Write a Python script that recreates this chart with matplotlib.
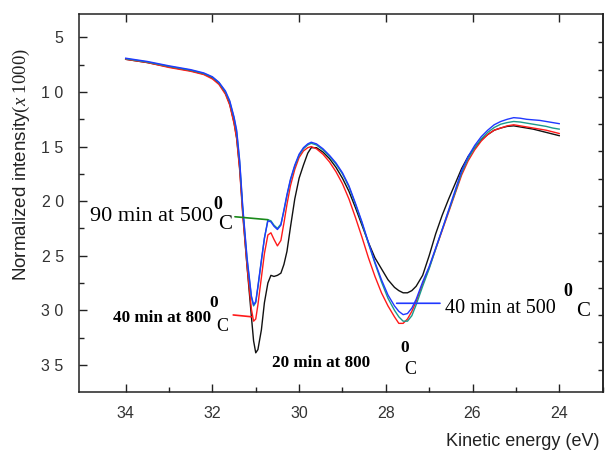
import numpy as np
import matplotlib
matplotlib.use("Agg")
import matplotlib.pyplot as plt

plt.rcParams['font.family'] = ['Liberation Sans', 'DejaVu Sans']
plt.rcParams['mathtext.fontset'] = 'custom'
plt.rcParams['mathtext.rm'] = 'Liberation Serif'
plt.rcParams['mathtext.it'] = 'Liberation Serif:italic'

# kinetic energy grid (eV)
energy = [34.0, 33.5, 33.0, 32.5, 32.2, 32.0, 31.85, 31.7, 31.6, 31.5, 31.44, 31.37,
          31.3, 31.2, 31.1, 31.05, 31.0, 30.95, 30.87, 30.8, 30.72, 30.65, 30.58, 30.5,
          30.42, 30.35, 30.28, 30.2, 30.1, 30.0, 29.9, 29.8, 29.72, 29.6, 29.45, 29.3,
          29.15, 29.0, 28.85, 28.7, 28.55, 28.4, 28.25, 28.1, 27.95, 27.8, 27.7, 27.6,
          27.5, 27.4, 27.3, 27.15, 27.0, 26.85, 26.7, 26.55, 26.4, 26.25, 26.1, 25.95,
          25.8, 25.65, 25.5, 25.35, 25.2, 25.05, 24.9, 24.75, 24.6, 24.45, 24.3, 24.15, 24.0]

# 20 min at 800 C
black_int = [7.0, 7.3, 7.7, 8.05, 8.35, 8.7, 9.2, 10.1, 11.1, 12.8, 14.2, 17.0,
             21.0, 26.0, 30.6, 32.8, 33.9, 33.6, 31.8, 29.3, 27.5, 26.8, 26.9, 26.8,
             26.6, 25.8, 24.6, 22.4, 19.8, 17.9, 16.7, 15.6, 15.1, 15.1, 15.5, 16.1,
             16.9, 17.9, 19.1, 20.6, 22.2, 23.8, 25.2, 26.2, 27.2, 27.9, 28.2, 28.4,
             28.4, 28.2, 27.8, 26.8, 25.0, 23.0, 21.3, 19.8, 18.4, 17.0, 15.9, 15.1,
             14.4, 13.9, 13.5, 13.3, 13.15, 13.1, 13.2, 13.3, 13.4, 13.55, 13.7, 13.85, 14.0]

# 40 min at 800 C
red_int = [7.0, 7.3, 7.75, 8.1, 8.4, 8.8, 9.3, 10.2, 11.2, 12.9, 14.3, 17.2,
           21.3, 26.0, 29.9, 31.0, 30.8, 29.5, 27.0, 24.8, 23.1, 22.9, 23.5, 24.1,
           23.6, 22.0, 20.3, 18.6, 17.1, 16.0, 15.4, 15.1, 15.0, 15.2, 15.7, 16.4,
           17.3, 18.4, 19.8, 21.5, 23.3, 25.2, 26.9, 28.4, 29.6, 30.6, 31.2, 31.2,
           30.8, 30.1, 29.2, 27.6, 26.1, 24.4, 22.7, 21.0, 19.3, 17.6, 16.3, 15.3,
           14.5, 13.9, 13.5, 13.3, 13.1, 13.0, 13.1, 13.2, 13.3, 13.4, 13.5, 13.65, 13.8]

# 90 min at 500 C
teal_int = [6.95, 7.25, 7.65, 8.0, 8.3, 8.65, 9.15, 10.0, 10.9, 12.4, 13.7, 16.5,
            20.7, 25.4, 28.8, 29.6, 29.3, 27.9, 25.5, 23.4, 21.7, 21.8, 22.2, 22.5,
            22.1, 20.9, 19.5, 18.1, 16.8, 15.8, 15.2, 14.85, 14.7, 14.85, 15.3, 15.9,
            16.6, 17.5, 18.7, 20.3, 22.0, 23.9, 25.7, 27.4, 28.9, 30.0, 30.6, 31.0,
            31.0, 30.5, 29.5, 27.8, 26.2, 24.4, 22.6, 20.9, 19.2, 17.4, 16.1, 15.1,
            14.3, 13.7, 13.25, 12.95, 12.8, 12.7, 12.75, 12.85, 12.95, 13.05, 13.15, 13.3, 13.4]

# 40 min at 500 C
blue_int = [6.9, 7.2, 7.6, 7.95, 8.25, 8.6, 9.1, 9.9, 10.8, 12.3, 13.5, 16.3,
            20.5, 25.2, 28.7, 29.5, 29.2, 27.8, 25.4, 23.4, 21.8, 21.9, 22.3, 22.6,
            22.2, 20.8, 19.4, 18.0, 16.7, 15.7, 15.1, 14.75, 14.6, 14.75, 15.2, 15.8,
            16.5, 17.4, 18.6, 20.2, 21.9, 23.8, 25.6, 27.2, 28.6, 29.6, 30.1, 30.4,
            30.3, 29.8, 29.0, 27.4, 26.0, 24.3, 22.6, 20.8, 19.0, 17.2, 15.9, 14.9,
            14.1, 13.5, 13.0, 12.7, 12.5, 12.35, 12.4, 12.5, 12.55, 12.6, 12.7, 12.8, 12.9]

ytick_vals = [5, 10, 15, 20, 25, 30, 35]
ytick_labels = ['5', '1 0', '1 5', '2 0', '2 5', '3 0', '3 5']
xtick_vals = [34, 32, 30, 28, 26, 24]

fig = plt.figure(figsize=(6.05, 4.5), dpi=100)
ax = fig.add_axes([79/605, 58/450, 524/605, 378/450])

ax.plot(energy, black_int, color='#111111', lw=1.0)
ax.plot(energy, red_int, color='#ff1a1a', lw=1.0)
ax.plot(energy, teal_int, color='#1a9a8c', lw=1.0)
ax.plot(energy, blue_int, color='#2038ff', lw=1.0)

ax.set_xlim(35.077, 22.99)
ax.set_ylim(37.49, 2.85)

ax.set_xticks(xtick_vals)
ax.set_xticklabels([str(v) for v in xtick_vals])
ax.set_xticks([33, 31, 29, 27, 25, 23], minor=True)
ax.set_yticks(ytick_vals)
ax.set_yticklabels(ytick_labels)
ax.set_yticks([7.5, 12.5, 17.5, 22.5, 27.5, 32.5], minor=True)

for s in ax.spines.values():
    s.set_color('#222222')
    s.set_linewidth(1.1)

ax.tick_params(which='major', direction='in', length=6, width=1.0, color='#222222',
               labelsize=11.5, labelcolor='#333333', top=True, right=False)
ax.tick_params(which='minor', direction='in', length=3.5, width=1.0, color='#222222',
               top=False, right=False)
ax.tick_params(axis='y', which='major', pad=11)
ax.tick_params(axis='x', which='major', pad=10)

sec = ax.secondary_yaxis('right')
sec.set_yticks(np.arange(5.45, 36, 2.5))
sec.set_yticklabels([])
sec.tick_params(direction='in', length=3.5, width=1.0, color='#222222')
sec.spines['right'].set_color('#222222')
sec.spines['right'].set_linewidth(1.1)

serif = 'Liberation Serif'

# 90 min at 500 C
ax.text(34.82, 21.43, '90 min at 500', family=serif, fontsize=16, ha='left', va='center')
ax.text(31.87, 20.35, '0', family=serif, fontsize=13, fontweight='bold', ha='center', va='center')
ax.text(31.71, 22.1, 'C', family=serif, fontsize=15, ha='center', va='center')
ax.annotate('', xy=(30.72, 21.7), xytext=(31.48, 21.43),
            arrowprops=dict(arrowstyle='-', color='#1a8a1a', lw=1.2, shrinkA=0, shrinkB=0))

# 40 min at 800 C
ax.text(34.29, 30.71, '40 min at 800', family=serif, fontsize=12.3, fontweight='bold',
        ha='left', va='center')
ax.text(31.96, 29.33, '0', family=serif, fontsize=12.5, fontweight='bold', ha='center', va='center')
ax.text(31.78, 31.53, 'C', family=serif, fontsize=13, ha='center', va='center')
ax.annotate('', xy=(31.09, 30.6), xytext=(31.52, 30.43),
            arrowprops=dict(arrowstyle='-', color='#ff1a1a', lw=1.2, shrinkA=0, shrinkB=0))

# 20 min at 800 C
ax.text(30.63, 34.86, '20 min at 800', family=serif, fontsize=12.3, fontweight='bold',
        ha='left', va='center')
ax.text(27.56, 33.46, '0', family=serif, fontsize=12.5, fontweight='bold', ha='center', va='center')
ax.text(27.44, 35.47, 'C', family=serif, fontsize=13, ha='center', va='center')

# 40 min at 500 C
ax.text(26.64, 29.82, '40 min at 500', family=serif, fontsize=14.5, ha='left', va='center')
ax.text(23.8, 28.3, '0', family=serif, fontsize=13, fontweight='bold', ha='center', va='center')
ax.text(23.46, 30.13, 'C', family=serif, fontsize=15, ha='center', va='center')
ax.annotate('', xy=(27.75, 29.36), xytext=(26.75, 29.36),
            arrowprops=dict(arrowstyle='-', color='#2038ff', lw=1.2, shrinkA=0, shrinkB=0))

fig.text(600/605, 1 - 441.7/450, 'Kinetic energy (eV)', fontsize=13, color='#222222',
         ha='right', va='center')
fig.text(21.7/605, 1 - 165/450, r'Normalized intensity$(x\ 1000)$', fontsize=13.5,
         color='#222222', rotation=90, ha='center', va='center')

fig.savefig('out.png', dpi=100)
